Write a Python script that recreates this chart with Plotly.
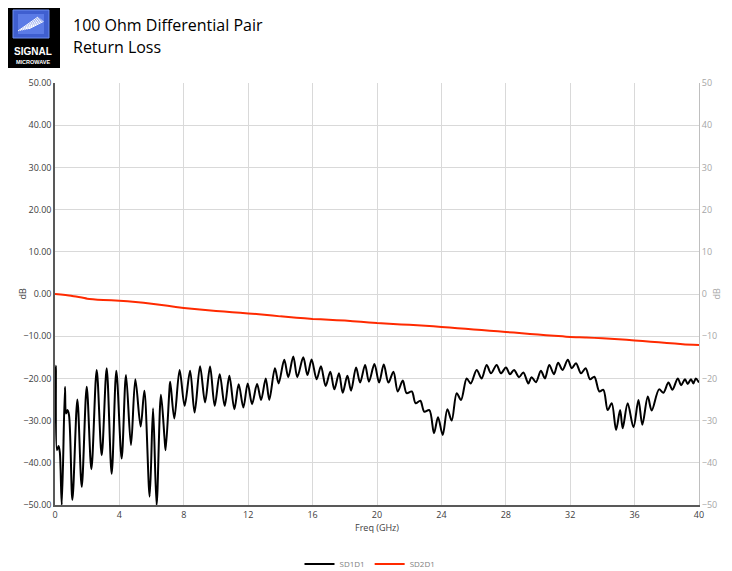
import plotly.graph_objects as go

# ---- data ----
freq_sd1d1 = [0.0, 0.05, 0.12, 0.22, 0.3, 0.42, 0.62, 0.68, 0.77, 0.87, 1.08,
              1.39, 1.66, 1.97, 2.26, 2.59, 2.9, 3.21, 3.52, 3.81, 4.14, 4.41, 4.72,
              4.99, 5.32, 5.55, 5.88, 6.09, 6.31, 6.58, 6.8, 6.87, 7.13, 7.16, 7.41, 7.74,
              8.05, 8.39, 8.67, 9.01, 9.32, 9.63, 9.92, 10.23, 10.54, 10.83, 11.14,
              11.41, 11.70, 11.97, 12.24, 12.55, 12.80, 13.09, 13.31, 13.66, 13.89,
              14.24, 14.49, 14.8, 15.05, 15.42, 15.68, 15.94, 16.25, 16.52, 16.81,
              17.1, 17.35, 17.64, 17.87, 18.16, 18.39, 18.7, 18.95, 19.26, 19.5,
              19.84, 20.13, 20.42, 20.71, 21.02, 21.29, 21.6, 21.84, 22.16, 22.4,
              22.69, 22.94, 23.25, 23.54, 23.79, 24.08, 24.37, 24.64, 24.95, 25.22,
              25.57, 25.82, 26.19, 26.5, 26.81, 27.08, 27.43, 27.7, 28.01, 28.26,
              28.51, 28.82, 29.09, 29.4, 29.6, 29.87, 30.18, 30.43, 30.7, 30.99,
              31.25, 31.52, 31.85, 32.1, 32.36, 32.67, 32.96, 33.23, 33.5, 33.81,
              34.06, 34.33, 34.58, 34.85, 35.1, 35.26, 35.57, 35.93, 36.24, 36.48,
              36.82, 37.06, 37.52, 37.79, 38.1, 38.35, 38.68, 38.89, 39.13, 39.3,
              39.5, 39.65, 39.8, 40.0]
sd1d1_db = [-26, -17, -37, -36, -37.5, -50, -22, -28.3, -27.5, -28.7, -48.8,
            -25, -45.7, -22, -41.5, -18, -38.2, -17.6, -42.6, -18.2, -39, -19.2, -35.8,
            -20.2, -31.4, -22.9, -48, -27.1, -50, -23.9, -34, -37, -21.5, -20.8, -29.5, -18,
            -26.5, -18.2, -28.1, -17.1, -25.7, -17.2, -26.5, -19.0, -26.5, -19.4, -27.3,
            -21.4, -26.9, -21.2, -26.1, -21.3, -25.1, -20.0, -25.1, -17.6, -21.2,
            -15.6, -19.7, -14.8, -19.7, -15.0, -19.2, -15.5, -20.2, -17.1, -21.8,
            -18.4, -22.6, -18.8, -23.4, -19.4, -22.9, -17.4, -21.0, -16.8, -20.8,
            -16.6, -21.0, -16.7, -21.0, -18.4, -23.1, -20.5, -23.5, -23.1, -25.9,
            -25.3, -27.9, -27.5, -33.0, -29.2, -33.4, -27.3, -30.0, -23.5, -25.1,
            -20.0, -21.2, -18.0, -20.0, -16.8, -18.8, -16.8, -18.8, -17.4, -19.0,
            -18.0, -19.7, -18.6, -21.2, -19.7, -20.9, -18.2, -20.0, -16.8, -19.0,
            -16.3, -18.0, -15.6, -17.6, -16.4, -18.8, -17.6, -20.2, -19.6, -23.1,
            -22.7, -27.5, -25.9, -32.2, -27.5, -31.8, -25.9, -31.6, -25.1, -31.0,
            -24.3, -27.6, -22.6, -23.4, -21.0, -22.7, -20.0, -21.6, -20.2, -21.3,
            -20.2, -21.2, -20.0, -21.0]

freq_sd2d1 = [0, 1, 2, 3, 4, 5, 6, 7, 8, 9, 10, 11, 12, 13, 14, 15, 16, 17, 18, 19, 20,
              21, 22, 23, 24, 25, 26, 27, 28, 29, 30, 31, 32, 33, 34, 35, 36, 37, 38, 39, 40]
sd2d1_db = [0.0, -0.4, -1.1, -1.4, -1.6, -1.9, -2.3, -2.8, -3.3, -3.7, -4.0, -4.3, -4.6,
            -4.9, -5.3, -5.6, -5.9, -6.1, -6.3, -6.6, -6.9, -7.1, -7.3, -7.5, -7.8, -8.1,
            -8.4, -8.7, -9.0, -9.3, -9.6, -9.9, -10.2, -10.3, -10.5, -10.7, -11.0, -11.3,
            -11.6, -11.9, -12.1]

x_ticks = [0, 4, 8, 12, 16, 20, 24, 28, 32, 36, 40]
y_ticks = [50, 40, 30, 20, 10, 0, -10, -20, -30, -40, -50]

title_lines = ["100 Ohm Differential Pair", "Return Loss"]

# ---- geometry (screen pixels; the page draws the figure 8 px in from the corner) ----
OFF = 8
SW, SH = 732, 571
W, H = SW - OFF, SH - OFF
L, R, T, B = 55, 699, 83, 505
def px(x):
    return (x - L) / (R - L)
def py(y):
    return (B - y) / (B - T)

FONT = "Open Sans"

fig = go.Figure()
fig.add_trace(go.Scatter(x=freq_sd1d1, y=sd1d1_db, mode="lines", name="SD1D1",
                         line=dict(color="black", width=2, shape="spline", smoothing=0.9)))
fig.add_trace(go.Scatter(x=freq_sd2d1, y=sd2d1_db, mode="lines", name="SD2D1",
                         yaxis="y2",
                         line=dict(color="#ff2a00", width=2, shape="spline", smoothing=0.6)))

fig.update_layout(
    width=W, height=H,
    margin=dict(l=L - OFF, r=SW - R, t=T - OFF, b=SH - B, autoexpand=False),
    paper_bgcolor="white", plot_bgcolor="white",
    font=dict(family=FONT, size=9, color="#404040"),
    showlegend=True,
    legend=dict(orientation="h", x=px(370), xanchor="center", y=py(564), yanchor="middle",
                font=dict(size=8, color="#808080"), itemwidth=30, tracegroupgap=0,
                bgcolor="rgba(0,0,0,0)"),
    xaxis=dict(range=[0, 40], tickvals=x_ticks, ticktext=[str(v) for v in x_ticks],
               showgrid=True, gridcolor="#d9d9d9", gridwidth=1,
               showline=True, linecolor="#595959", linewidth=1.5,
               ticks="", tickfont=dict(size=9, color="#404040"),
               title=dict(text="Freq (GHz)", font=dict(size=9, color="#404040"), standoff=4),
               zeroline=False, automargin=False),
    yaxis=dict(range=[-50, 50], tickvals=y_ticks, tickformat=".2f",
               showgrid=True, gridcolor="#d9d9d9", gridwidth=1,
               showline=True, linecolor="#595959", linewidth=1.5,
               ticks="", tickfont=dict(size=9, color="#404040"),
               zeroline=False, automargin=False),
    yaxis2=dict(range=[-50, 50], tickvals=y_ticks, overlaying="y", side="right",
                showgrid=False, showline=True, linecolor="#bfbfbf", linewidth=1,
                ticks="", tickfont=dict(size=9, color="#a6a6a6"), zeroline=False,
                automargin=False),
)

annotations = [
    dict(text="dB", x=px(13), y=py(294), xref="paper", yref="paper", showarrow=False,
         textangle=-90, font=dict(size=9, color="#404040")),
    dict(text="dB", x=px(724), y=py(294), xref="paper", yref="paper", showarrow=False,
         textangle=-90, font=dict(size=9, color="#a6a6a6")),
    dict(text=title_lines[0], x=px(71), y=py(25), xref="paper", yref="paper", showarrow=False,
         xanchor="left", yanchor="middle", font=dict(family=FONT, size=16, color="black")),
    dict(text=title_lines[1], x=px(71), y=py(47), xref="paper", yref="paper", showarrow=False,
         xanchor="left", yanchor="middle", font=dict(family=FONT, size=16, color="black")),
    dict(text="<b>SIGNAL</b>", x=px(32.5), y=py(52), xref="paper", yref="paper", showarrow=False,
         xanchor="center", yanchor="middle", font=dict(family="Liberation Sans", size=10, color="white")),
    dict(text="<b>MICROWAVE</b>", x=px(32.5), y=py(62), xref="paper", yref="paper", showarrow=False,
         xanchor="center", yanchor="middle", font=dict(family="Liberation Sans", size=5.5, color="white")),
]

shapes = [
    dict(type="rect", xref="paper", yref="paper", x0=px(5), x1=px(60), y0=py(68), y1=py(5),
         fillcolor="black", line=dict(width=0), layer="above"),
    dict(type="rect", xref="paper", yref="paper", x0=px(13), x1=px(49), y0=py(38), y1=py(10),
         fillcolor="#3f5fd0", line=dict(color="#6f8ff0", width=1), layer="above"),
    dict(type="rect", xref="paper", yref="paper", x0=px(18), x1=px(44), y0=py(34), y1=py(14),
         fillcolor="#5b7be6", line=dict(width=0), layer="above"),
]
# white diagonal stripes of the logo
for i in range(6):
    off = i * 2.2
    shapes.append(dict(type="line", xref="paper", yref="paper",
                       x0=px(18 + off), y0=py(31 - off * 0.2), x1=px(38 + off * 0.5), y1=py(17 - off * 0.2 + off * 0.6),
                       line=dict(color="white", width=1), layer="above"))

fig.update_layout(annotations=annotations, shapes=shapes)

fig.write_html("out.html")
